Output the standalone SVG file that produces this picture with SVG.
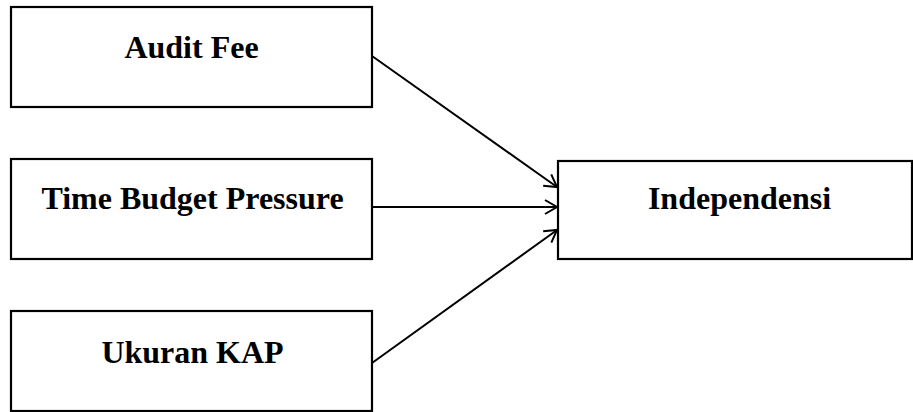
<svg xmlns="http://www.w3.org/2000/svg" width="913" height="412" viewBox="0 0 913 412">
<style>
.box{fill:#fff;stroke:#000;stroke-width:2.2}
.lbl{font-family:"Liberation Serif","Times New Roman",serif;font-weight:bold;font-size:32px;fill:#000;text-anchor:middle}
.conn{stroke:#000;stroke-width:2;fill:none}
</style>
<defs>
<marker id="arr" markerWidth="16" markerHeight="16" refX="14" refY="8" orient="auto" markerUnits="userSpaceOnUse">
<path d="M2,1 L14,8 L2,15" fill="none" stroke="#000" stroke-width="2"/>
</marker>
</defs>
<rect width="913" height="412" fill="#fff"/>
<g id="audit-fee"><rect class="box" x="11" y="7" width="361" height="100"/><text class="lbl" x="191.5" y="58">Audit Fee</text></g>
<g id="time-budget-pressure"><rect class="box" x="11" y="159" width="361" height="100"/><text class="lbl" x="192.5" y="209">Time Budget Pressure</text></g>
<g id="ukuran-kap"><rect class="box" x="11" y="311" width="361" height="100"/><text class="lbl" x="192.5" y="363">Ukuran KAP</text></g>
<g id="independensi"><rect class="box" x="558" y="161" width="354" height="98"/><text class="lbl" x="739.5" y="209">Independensi</text></g>
<g id="connectors">
<line class="conn" x1="372" y1="56" x2="557" y2="187" marker-end="url(#arr)"/>
<line class="conn" x1="372" y1="207" x2="557" y2="207" marker-end="url(#arr)"/>
<line class="conn" x1="372" y1="363" x2="557" y2="230" marker-end="url(#arr)"/>
</g>
</svg>
